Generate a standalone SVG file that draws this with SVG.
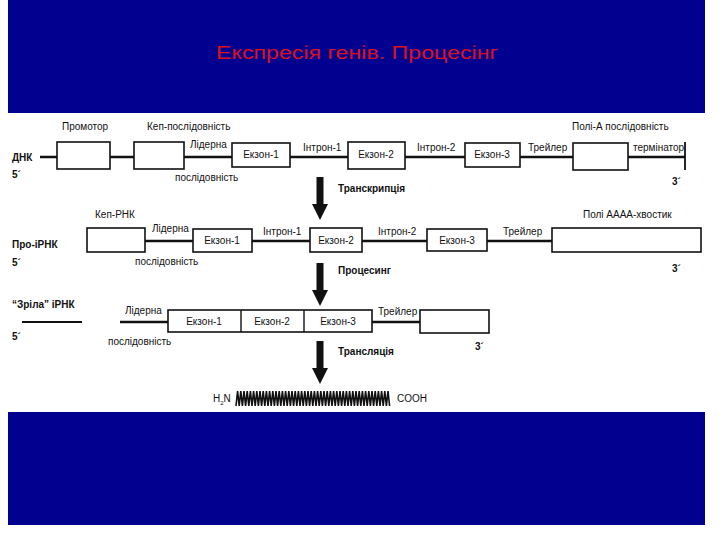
<svg xmlns="http://www.w3.org/2000/svg" xmlns:xlink="http://www.w3.org/1999/xlink" width="720" height="540" viewBox="0 0 720 540">
<style>
.bg{fill:#01008f}
.t{font-family:"Liberation Sans",Arial,sans-serif;font-size:10px;fill:#111}
.b{font-family:"Liberation Sans",Arial,sans-serif;font-size:10px;font-weight:bold;fill:#111}
.c{text-anchor:middle}
.box{fill:#fff;stroke:#111;stroke-width:1.6}
.ln{stroke:#111;stroke-width:2.6;fill:none}
</style>
<defs>
<path id="arr" d="M-3.5,0 H3.5 V27 H8 L0,43 L-8,27 H-3.5 Z" fill="#111"/>
</defs>
<rect width="720" height="540" fill="#fff"/>
<rect class="bg" x="8" y="0" width="697" height="113"/>
<rect class="bg" x="8" y="412" width="697" height="113"/>
<text x="216" y="59" textLength="282" lengthAdjust="spacingAndGlyphs" font-family="Liberation Sans,Arial,sans-serif" font-size="18" fill="#dc1020">Експресія генів. Процесінг</text>

<g id="connectors">
<line class="ln" x1="40" y1="157" x2="685" y2="157"/>
<line x1="685" y1="142" x2="685" y2="170" stroke="#111" stroke-width="1.8"/>
<line class="ln" x1="145" y1="241" x2="552" y2="241"/>
<line x1="22" y1="322" x2="82" y2="322" stroke="#111" stroke-width="2"/>
<line class="ln" x1="120" y1="322" x2="420" y2="322"/>
<use xlink:href="#arr" x="320" y="177"/>
<use xlink:href="#arr" x="320" y="263"/>
<use xlink:href="#arr" x="320" y="341"/>
</g>

<g id="dna">
<text class="b" x="12" y="161">ДНК</text>
<text class="b" x="12" y="178">5´</text>
<g id="promoter"><rect class="box" x="57" y="142" width="53" height="27"/><text class="t" x="62" y="130">Промотор</text></g>
<g id="cap"><rect class="box" x="134" y="142" width="50" height="27"/><text class="t" x="147" y="130">Кеп-послідовність</text></g>
<text class="t" x="190" y="148">Лідерна</text>
<text class="t" x="175" y="181">послідовність</text>
<g id="dna-exon1"><rect class="box" x="232" y="143" width="58" height="24"/><text class="t c" x="261" y="158">Екзон-1</text></g>
<text class="t" x="303" y="151">Інтрон-1</text>
<g id="dna-exon2"><rect class="box" x="348" y="142" width="57" height="27"/><text class="t c" x="376" y="158">Екзон-2</text></g>
<text class="t" x="417" y="151">Інтрон-2</text>
<g id="dna-exon3"><rect class="box" x="465" y="143" width="55" height="24"/><text class="t c" x="492" y="158">Екзон-3</text></g>
<text class="t" x="528" y="151">Трейлер</text>
<g id="polyA"><rect class="box" x="573" y="143" width="55" height="27"/><text class="t" x="572" y="130">Полі-А послідовність</text></g>
<text class="t" x="633" y="151">термінатор</text>
<text class="b" x="672" y="185">3´</text>
</g>
<text class="b" x="338" y="192">Транскрипція</text>

<g id="pre-mrna">
<text class="b" x="12" y="248">Про-іРНК</text>
<text class="b" x="12" y="266">5´</text>
<g id="cap-rna"><rect class="box" x="87" y="228" width="58" height="24"/><text class="t" x="95" y="218">Кеп-РНК</text></g>
<text class="t" x="152" y="232">Лідерна</text>
<text class="t" x="135" y="265">послідовність</text>
<g id="pre-exon1"><rect class="box" x="193" y="229" width="59" height="23"/><text class="t c" x="222" y="244">Екзон-1</text></g>
<text class="t" x="263" y="235">Інтрон-1</text>
<g id="pre-exon2"><rect class="box" x="310" y="228" width="52" height="24"/><text class="t c" x="336" y="244">Екзон-2</text></g>
<text class="t" x="378" y="235">Інтрон-2</text>
<g id="pre-exon3"><rect class="box" x="427" y="229" width="60" height="22"/><text class="t c" x="457" y="244">Екзон-3</text></g>
<text class="t" x="503" y="235">Трейлер</text>
<g id="polyAAAA"><rect class="box" x="552" y="228" width="149" height="24"/><text class="t" x="583" y="218">Полі AAAA-хвостик</text></g>
<text class="b" x="672" y="272">3´</text>
</g>
<text class="b" x="338" y="274">Процесинг</text>

<g id="mature-mrna">
<text class="b" x="12" y="308">“Зріла” іРНК</text>
<text class="b" x="12" y="340">5´</text>
<text class="t" x="125" y="314">Лідерна</text>
<text class="t" x="108" y="345">послідовність</text>
<g id="exons"><rect class="box" x="168" y="310" width="204" height="22"/>
<line x1="241" y1="310" x2="241" y2="332" stroke="#111" stroke-width="1.4"/>
<line x1="304" y1="310" x2="304" y2="332" stroke="#111" stroke-width="1.4"/>
<text class="t c" x="204" y="325">Екзон-1</text><text class="t c" x="272" y="325">Екзон-2</text><text class="t c" x="338" y="325">Екзон-3</text></g>
<text class="t" x="378" y="315">Трейлер</text>
<g id="trailer-box"><rect class="box" x="420" y="310" width="69" height="23"/></g>
<text class="b" x="475" y="350">3´</text>
</g>
<text class="b" x="338" y="355">Трансляція</text>

<g id="protein">
<text class="t" x="213" y="402" font-size="9">H<tspan font-size="6" dy="3">2</tspan><tspan dy="-3">N</tspan></text>
<path d="M236,406 l1.6,-15 l1.6,15 l1.6,-15 l1.6,15 l1.6,-15 l1.6,15 l1.6,-15 l1.6,15 l1.6,-15 l1.6,15 l1.6,-15 l1.6,15 l1.6,-15 l1.6,15 l1.6,-15 l1.6,15 l1.6,-15 l1.6,15 l1.6,-15 l1.6,15 l1.6,-15 l1.6,15 l1.6,-15 l1.6,15 l1.6,-15 l1.6,15 l1.6,-15 l1.6,15 l1.6,-15 l1.6,15 l1.6,-15 l1.6,15 l1.6,-15 l1.6,15 l1.6,-15 l1.6,15 l1.6,-15 l1.6,15 l1.6,-15 l1.6,15 l1.6,-15 l1.6,15 l1.6,-15 l1.6,15 l1.6,-15 l1.6,15 l1.6,-15 l1.6,15 l1.6,-15 l1.6,15 l1.6,-15 l1.6,15 l1.6,-15 l1.6,15 l1.6,-15 l1.6,15 l1.6,-15 l1.6,15 l1.6,-15 l1.6,15 l1.6,-15 l1.6,15 l1.6,-15 l1.6,15 l1.6,-15 l1.6,15 l1.6,-15 l1.6,15 l1.6,-15 l1.6,15 l1.6,-15 l1.6,15 l1.6,-15 l1.6,15 l1.6,-15 l1.6,15 l1.6,-15 l1.6,15 l1.6,-15 l1.6,15 l1.6,-15 l1.6,15 l1.6,-15 l1.6,15 l1.6,-15 l1.6,15 l1.6,-15 l1.6,15 l1.6,-15 l1.6,15 l1.6,-15 l1.6,15 l1.6,-15 l1.6,15 l1.6,-15 l1.6,15" fill="none" stroke="#111" stroke-width="1.6"/>
<text class="t" x="397" y="402" font-size="9">COOH</text>
</g>
</svg>
